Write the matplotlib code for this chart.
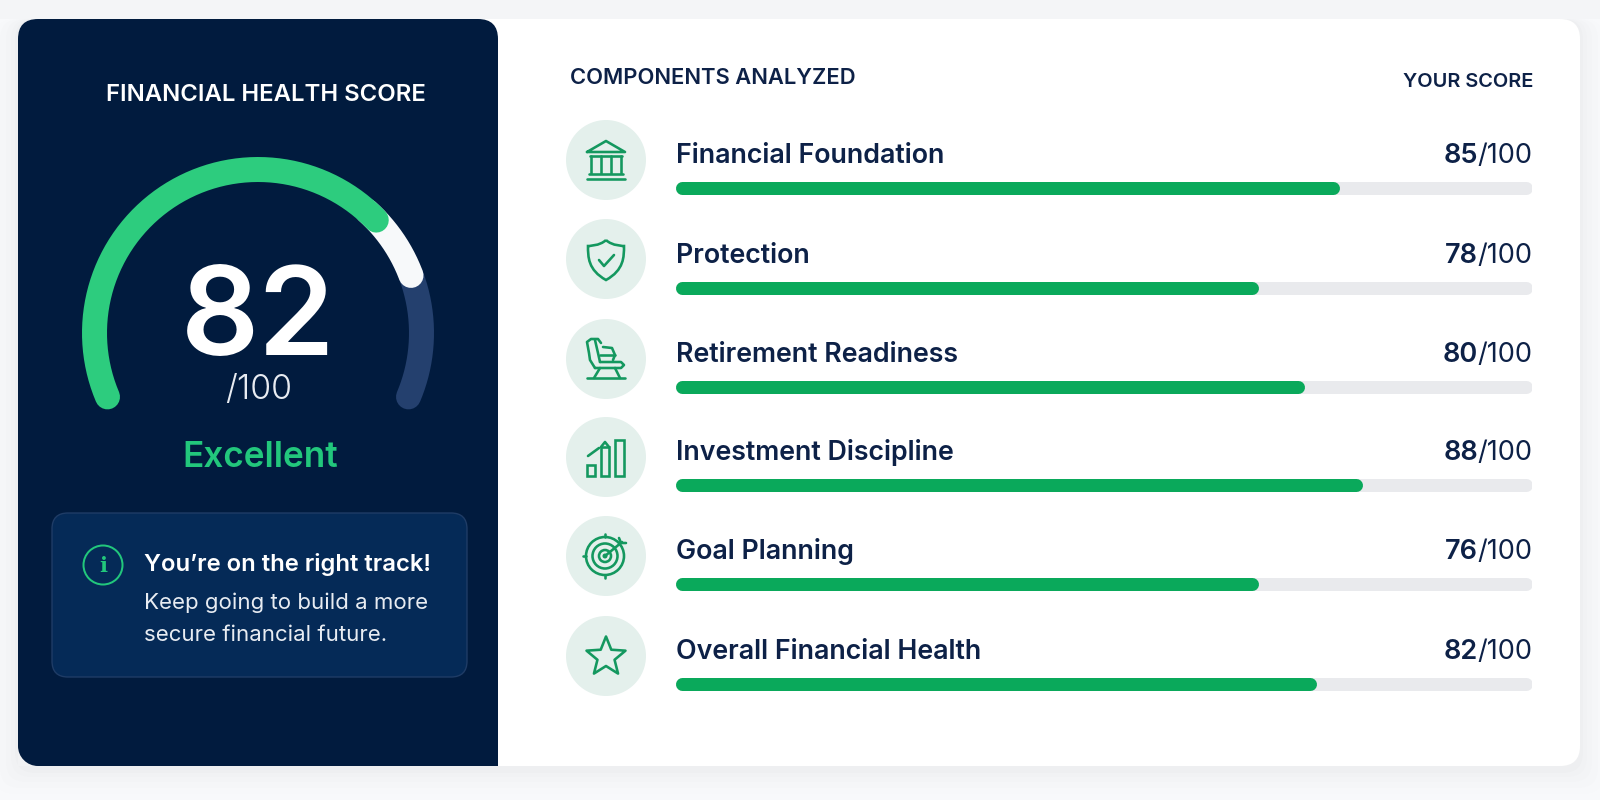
import matplotlib
matplotlib.use("Agg")
import matplotlib.pyplot as plt
from matplotlib.patches import Circle, FancyBboxPatch, PathPatch, Polygon, Rectangle
from matplotlib.path import Path
import numpy as np

plt.rcParams["font.family"] = ["Inter", "DejaVu Sans"]

# values
components = [
    "Financial Foundation",
    "Protection",
    "Retirement Readiness",
    "Investment Discipline",
    "Goal Planning",
    "Overall Financial Health",
]
scores = [85, 78, 80, 88, 76, 82]
# the drawn fills are not quite the printed scores, so they are read separately
bar_fill = [77.5, 68.1, 73.4, 80.2, 68.1, 74.8]
overall_score = 82
gauge_green = 70.5
gauge_white = 80.7

NAVY = "#011b3e"
INK = "#0d2147"
GREEN = "#2dcc7e"
BAR_GREEN = "#0aa95b"
ICON = "#14985f"

ROW_Y = [188, 288, 387, 485, 584, 684]
ICON_Y = [160, 259, 359, 457, 556, 656]
BAR_X0, BAR_X1 = 675, 1532
BAR_H = 13


def px(n):
    return n * 0.72


def round_box(ax, x0, y0, x1, y1, r, **kw):
    patch = FancyBboxPatch(
        (x0 + r, y0 + r),
        x1 - x0 - 2 * r,
        y1 - y0 - 2 * r,
        boxstyle=f"round,pad={r},rounding_size={r}",
        **kw,
    )
    ax.add_patch(patch)
    return patch


def add_gauge(ax, cx=258, cy=333, r=163.5):
    def arc(v0, v1):
        t = np.radians(203 - np.linspace(v0, v1, 200) / 100 * 226)
        return cx + r * np.cos(t), cy - r * np.sin(t)

    for v0, v1, color in [(gauge_white, 100, "#24406e"), (gauge_green - 2, gauge_white, "#f7f9fa"), (0, gauge_green, GREEN)]:
        x, y = arc(v0, v1)
        ax.plot(x, y, color=color, lw=px(25), solid_capstyle="round", zorder=3)


def stroke(ax, x, y, lw=2.6):
    ax.plot(x, y, color=ICON, lw=px(lw), solid_capstyle="round", solid_joinstyle="round", zorder=5)


def icon_bank(ax, c, d):
    stroke(ax, [c - 19, c, c + 19, c - 19], [d - 8, d - 19, d - 8, d - 8])
    stroke(ax, [c - 16, c + 16], [d - 4, d - 4])
    for dx in (-15, -5, 5, 15):
        stroke(ax, [c + dx, c + dx], [d - 4, d + 13])
    stroke(ax, [c - 17, c + 17], [d + 14, d + 14])
    stroke(ax, [c - 19, c + 19], [d + 19, d + 19])


def icon_shield(ax, c, d):
    verts = [(0, -19), (-6, -13), (-18, -13), (-18, -13), (-18, -2), (-18, 11), (0, 21), (18, 11), (18, -2), (18, -13), (18, -13), (6, -13), (0, -19)]
    codes = [Path.MOVETO] + [Path.CURVE4] * 12
    path = Path([(c + a, d + b) for a, b in verts], codes)
    ax.add_patch(PathPatch(path, fill=False, edgecolor=ICON, lw=px(2.6), zorder=5))
    stroke(ax, [c - 7, c - 2, c + 8], [d + 1, d + 7, d - 4])


def icon_chair(ax, c, d):
    # back and seat
    stroke(ax, [c - 5, c - 8, c - 15, c - 19, c - 17, c - 16, c - 11], [d - 16, d - 20, d - 20, d - 17, d - 6, d + 1, d + 9])
    stroke(ax, [c - 11, c - 8, c - 6], [d - 19, d - 6, d + 3])
    # armrest
    stroke(ax, [c - 6, c + 15, c + 18, c + 15, c - 11], [d + 3, d + 3, d + 6, d + 9, d + 9])
    # pillow
    stroke(ax, [c - 3, c + 6, c + 9, c + 7], [d - 12, d - 11, d - 4, d + 1])
    stroke(ax, [c - 6, c + 9], [d - 4, d - 4])
    # rockers
    stroke(ax, [c - 6, c - 12], [d + 9, d + 19])
    stroke(ax, [c + 9, c + 14], [d + 9, d + 19])
    stroke(ax, [c - 19, c + 19], [d + 19, d + 19])


def icon_bars(ax, c, d):
    for x0, x1, top in [(-19, -11, 8), (-5, 3, -10), (9, 18, -17)]:
        ax.add_patch(Rectangle((c + x0, d + top), x1 - x0, 19 - top, fill=False, edgecolor=ICON, lw=px(2.6), zorder=5))
    stroke(ax, [c - 18, c - 7], [d - 1, d - 9])
    stroke(ax, [c - 5, c - 1, c + 3], [d - 10, d - 15, d - 10])


def icon_target(ax, c, d):
    c = c - 1
    for r in (19, 12.5, 6):
        ax.add_patch(Circle((c, d), r, fill=False, edgecolor=ICON, lw=px(2.6), zorder=5))
    ax.add_patch(Circle((c, d), 1.8, color=ICON, zorder=5))
    stroke(ax, [c, c + 17], [d, d - 14])
    stroke(ax, [c + 14, c + 16, c + 21], [d - 18, d - 13, d - 13])
    for a, b, e, f in [(0, -19, 0, -22), (0, 19, 0, 22), (-19, 0, -22, 0)]:
        stroke(ax, [c + a, c + e], [d + b, d + f])


def icon_star(ax, c, d):
    t = np.radians(90 + np.arange(10) * 36)
    rad = np.array([20.5, 9.0] * 5)
    pts = np.column_stack([c + rad * np.cos(t), d + 1 - rad * np.sin(t)])
    ax.add_patch(Polygon(pts, closed=True, fill=False, edgecolor=ICON, lw=px(2.6), joinstyle="round", zorder=5))


ICONS = [icon_bank, icon_shield, icon_chair, icon_bars, icon_target, icon_star]


def corner_mask(x0, y1, r):
    k = r * 0.448
    verts = [(x0, y1), (x0, y1 - r), (x0, y1 - k), (x0 + k, y1), (x0 + r, y1), (x0, y1)]
    codes = [Path.MOVETO, Path.LINETO, Path.CURVE4, Path.CURVE4, Path.CURVE4, Path.CLOSEPOLY]
    return Path(verts, codes)


def add_left_panel(ax):
    x0, y0, x1, y1, r = 18, 19, 498, 766, 20
    round_box(ax, x0, y0, x1, y0 + 60, r, facecolor=NAVY, edgecolor="none", zorder=2)
    ax.add_patch(Rectangle((x0, y0 + 30), x1 - x0, y1 - y0 - 30, facecolor=NAVY, edgecolor="none", zorder=2))
    # round off the lower left corner only
    ax.add_patch(PathPatch(corner_mask(x0, y1, r), facecolor="#f1f2f4", edgecolor="none", zorder=2.5))

    ax.text(265.5, 101, "FINANCIAL HEALTH SCORE", color="white", fontsize=17.2, fontweight=600, ha="center", va="baseline", zorder=4)
    add_gauge(ax)
    ax.text(258, 355, str(overall_score), color="white", fontsize=88, fontweight=600, ha="center", va="baseline", zorder=4)
    ax.text(259, 399, "/100", color="#e8ecf2", fontsize=24.5, fontweight=300, ha="center", va="baseline", zorder=4)
    ax.text(260, 467, "Excellent", color="#22c77c", fontsize=25.3, fontweight=600, ha="center", va="baseline", zorder=4)

    round_box(ax, 52, 513, 467, 677, 16, facecolor="#052a57", edgecolor="#1f3c66", lw=1.0, zorder=3)
    ax.add_patch(Circle((103, 565), 19.5, fill=False, edgecolor="#22c77c", lw=px(2), zorder=4))
    ax.text(103, 572, "i", color="#22c77c", fontsize=15, family="DejaVu Serif", fontweight="bold", ha="center", va="baseline", zorder=4)
    ax.text(144, 571, "You’re on the right track!", color="white", fontsize=17.2, fontweight=600, ha="left", va="baseline", zorder=4)
    ax.text(144, 609, "Keep going to build a more", color="#e8ecf2", fontsize=16, ha="left", va="baseline", zorder=4)
    ax.text(144, 641, "secure financial future.", color="#e8ecf2", fontsize=16, ha="left", va="baseline", zorder=4)


def add_rows(ax, ax_bars):
    cap = BAR_H / 2 / (BAR_X1 - BAR_X0) * 100
    renderer = ax.figure.canvas.get_renderer()
    inv = ax.transData.inverted()

    ax.text(570, 84, "COMPONENTS ANALYZED", color=INK, fontsize=15.8, fontweight=600, ha="left", va="baseline")
    ax.text(1533, 87, "YOUR SCORE", color=INK, fontsize=14.4, fontweight=600, ha="right", va="baseline")

    for name, score, fill, y, iy, icon in zip(components, scores, bar_fill, ROW_Y, ICON_Y, ICONS):
        ax.add_patch(Circle((606, iy), 40, facecolor="#e4f0ec", edgecolor="none", zorder=2))
        icon(ax, 606, iy)
        ax.text(676, y - 25, name, color=INK, fontsize=19.3, fontweight=600, ha="left", va="baseline")

        tail = ax.text(1532, y - 25, "/100", color=INK, fontsize=19.5, fontweight=400, ha="right", va="baseline")
        left = inv.transform(tail.get_window_extent(renderer).get_points())[0, 0]
        ax.text(left + 1, y - 25, str(score), color=INK, fontsize=19.5, fontweight=600, ha="right", va="baseline")

        ax_bars.plot([cap, 100 - cap], [y, y], color="#e9eaed", lw=px(BAR_H), solid_capstyle="round")
        ax_bars.plot([cap, fill - cap], [y, y], color=BAR_GREEN, lw=px(BAR_H), solid_capstyle="round")


def main():
    fig = plt.figure(figsize=(16, 8), dpi=100, facecolor="#f8f9fb")
    ax = fig.add_axes([0, 0, 1, 1])
    ax.set_xlim(0, 1600)
    ax.set_ylim(800, 0)
    ax.axis("off")

    ax_bars = fig.add_axes([BAR_X0 / 1600, 0, (BAR_X1 - BAR_X0) / 1600, 1])
    ax_bars.set_xlim(0, 100)
    ax_bars.set_ylim(800, 0)
    ax_bars.axis("off")

    # soft shadow round the card, heavier below
    ax.add_patch(Rectangle((0, 0), 1600, 19, facecolor="#f4f5f7", edgecolor="none", zorder=0))
    for grow, alpha in [(24, 0.005), (18, 0.006), (12, 0.007), (7, 0.008), (3, 0.01)]:
        round_box(ax, 18 - grow, 19, 1580 + grow, 766 + grow + 4, 20, facecolor="black", edgecolor="none", alpha=alpha, zorder=0.5)
    round_box(ax, 18, 19, 1580, 766, 20, facecolor="white", edgecolor="none", zorder=1)

    add_left_panel(ax)
    add_rows(ax, ax_bars)

    fig.savefig("out.png", dpi=100, facecolor=fig.get_facecolor())
    plt.close(fig)


if __name__ == "__main__":
    main()
